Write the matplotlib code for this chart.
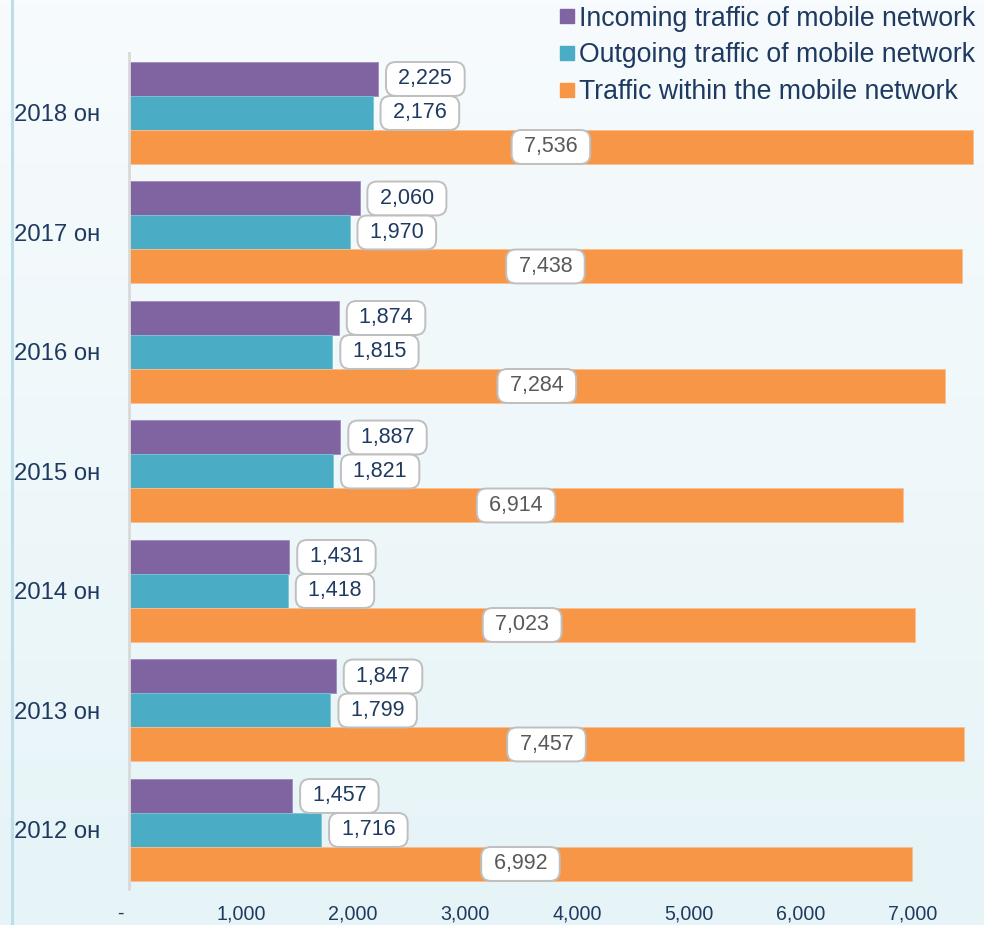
import numpy as np
import matplotlib
matplotlib.use("Agg")
import matplotlib.pyplot as plt
from matplotlib.lines import Line2D

# Data
years = ["2012 он", "2013 он", "2014 он", "2015 он", "2016 он", "2017 он", "2018 он"]
incoming = [1457, 1847, 1431, 1887, 1874, 2060, 2225]
outgoing = [1716, 1799, 1418, 1821, 1815, 1970, 2176]
within = [6992, 7457, 7023, 6914, 7284, 7438, 7536]
series_names = [
    "Incoming traffic of mobile network",
    "Outgoing traffic of mobile network",
    "Traffic within the mobile network",
]
xticks = [0, 1000, 2000, 3000, 4000, 5000, 6000, 7000]
xtick_labels = ["-   ", "1,000", "2,000", "3,000", "4,000", "5,000", "6,000", "7,000"]

PURPLE = "#8064A2"
TEAL = "#4BACC6"
ORANGE = "#F79646"
NAVY = "#1F3A60"
GRAY = "#595959"

plt.rcParams["font.family"] = ["Liberation Sans", "DejaVu Sans"]

fig = plt.figure(figsize=(9.84, 9.25), dpi=100)

# gradient background
bg = fig.add_axes([0, 0, 1, 1], zorder=-10)
top = np.array([0xF7, 0xFB, 0xFD]) / 255
bot = np.array([0xE6, 0xF4, 0xF7]) / 255
t = np.linspace(0, 1, 256)[:, None]
grad = top[None, :] * (1 - t) + bot[None, :] * t
bg.imshow(grad[:, None, :], aspect="auto", extent=[0, 1, 0, 1])
bg.set_xlim(0, 1)
bg.set_ylim(0, 1)
bg.axis("off")
fig.add_artist(Line2D([12 / 984, 12 / 984], [0, 1], color="#BCDDEA", lw=2.2,
                      transform=fig.transFigure))

ax = fig.add_axes([129 / 984, 36 / 925, 851 / 984, 836 / 925])
ax.patch.set_alpha(0)

y = np.arange(len(years))
h = 0.2845
ax.barh(y + h, incoming, height=h, color=PURPLE, edgecolor="#A08BBE", linewidth=0.6)
ax.barh(y, outgoing, height=h, color=TEAL, edgecolor="#7CC4D6", linewidth=0.6)
ax.barh(y - h, within, height=h, color=ORANGE, edgecolor="#FBBE8E", linewidth=0.6)

box = dict(boxstyle="round,pad=0.3,rounding_size=0.45", fc="white", ec="#BFBFBF", lw=1.4)
for yi, v in zip(y, incoming):
    ax.annotate(f" {v:,} ", (v, yi + h), xytext=(34, 0), textcoords="offset points",
                ha="center", va="center", fontsize=15.5, color=NAVY, bbox=box)
for yi, v in zip(y, outgoing):
    ax.annotate(f" {v:,} ", (v, yi), xytext=(34, 0), textcoords="offset points",
                ha="center", va="center", fontsize=15.5, color=NAVY, bbox=box)
for yi, v in zip(y, within):
    ax.text(v / 2, yi - h, f" {v:,} ", ha="center", va="center", fontsize=15.5,
            color=GRAY, bbox=box)

ax.set_xlim(0, 7600)
ax.set_ylim(-0.494, 6.502)
ax.set_yticks(y)
ax.set_yticklabels(years, fontsize=17.2, color=NAVY)
ax.set_xticks(xticks)
ax.set_xticklabels(xtick_labels, fontsize=14.1, color=NAVY)
ax.tick_params(axis="y", length=0, pad=21)
ax.tick_params(axis="x", length=0, pad=11)
for s in ["top", "right", "bottom"]:
    ax.spines[s].set_visible(False)
ax.spines["left"].set_color("#D9D9D9")
ax.spines["left"].set_linewidth(2)

handles = [Line2D([], [], marker="s", ls="none", ms=10, color=c) for c in (PURPLE, TEAL, ORANGE)]
fig.legend(handles, series_names, loc="upper right", bbox_to_anchor=(1.010, 1.014),
           frameon=False, fontsize=19.2, labelcolor=NAVY, handlelength=0.6,
           handletextpad=0.15, labelspacing=0.4, borderpad=0.2)

fig.savefig("out.png", dpi=100)
